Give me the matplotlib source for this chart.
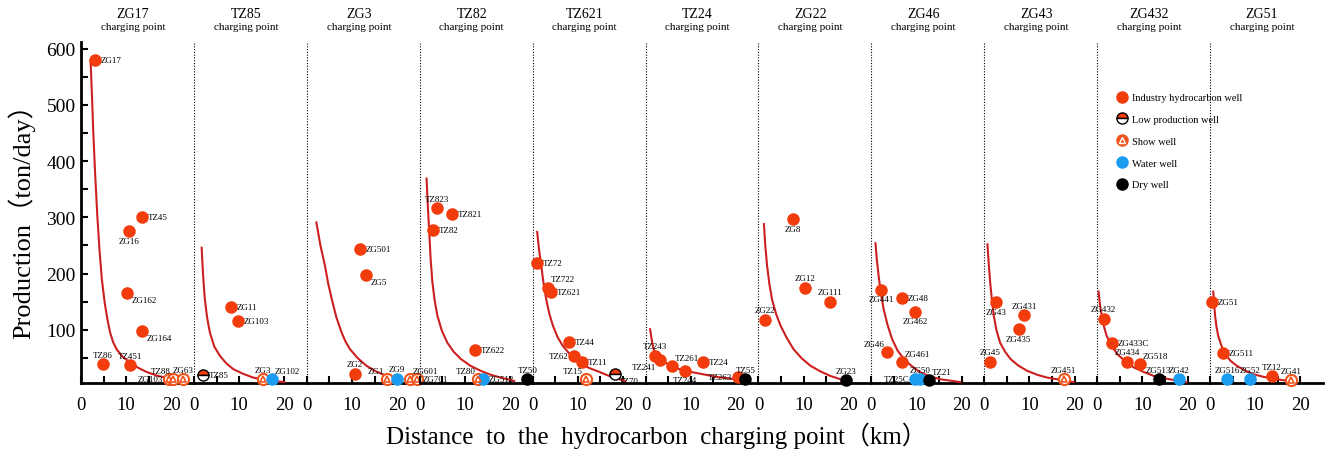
import matplotlib.pyplot as plt
from matplotlib.lines import Line2D

plt.rcParams['font.family'] = ['Liberation Serif', 'Noto Sans CJK SC']

panel_names = ['ZG17', 'TZ85', 'ZG3', 'TZ82', 'TZ621', 'TZ24',
               'ZG22', 'ZG46', 'ZG43', 'ZG432', 'ZG51']

# wells: panel index, name, distance (km), production (ton/day), type
# I = industry, L = low production, S = show, W = water, D = dry
well_panel = [0, 0, 0, 0, 0, 0, 0, 0, 0, 0,
              1, 1, 1, 1, 1,
              2, 2, 2, 2, 2, 2, 2,
              3, 3, 3, 3, 3, 3, 3,
              4, 4, 4, 4, 4, 4, 4, 4,
              5, 5, 5, 5, 5, 5, 5,
              6, 6, 6, 6, 6,
              7, 7, 7, 7, 7, 7, 7, 7,
              8, 8, 8, 8, 8,
              9, 9, 9, 9, 9, 9,
              10, 10, 10, 10, 10, 10]
well_name = ['ZG17', 'TZ45', 'ZG16', 'ZG162', 'ZG164', 'TZ86', 'TZ451', 'ZG103', 'TZ88', 'ZG63',
             'ZG11', 'ZG103', 'TZ85', 'ZG3', 'ZG102',
             'ZG501', 'ZG5', 'ZG2', 'ZG1', 'ZG9', 'ZG601', 'ZG701',
             'TZ823', 'TZ821', 'TZ82', 'TZ622', 'TZ80', 'ZG512', 'TZ50',
             'TZ72', 'TZ722', 'TZ621', 'TZ44', 'TZ62', 'TZ11', 'TZ15', 'TZ70',
             'TZ243', 'TZ241', 'TZ261', 'TZ24', 'TZ244', 'TZ263', 'TZ55',
             'ZG8', 'ZG12', 'ZG111', 'ZG22', 'ZG23',
             'ZG441', 'ZG48', 'ZG462', 'ZG46', 'ZG461', 'TZ25C', 'ZG50', 'TZ21',
             'ZG43', 'ZG431', 'ZG435', 'ZG45', 'ZG451',
             'ZG432', 'ZG433C', 'ZG434', 'ZG518', 'ZG513', 'ZG42',
             'ZG51', 'ZG511', 'ZG516', 'ZG52', 'TZ12', 'ZG41']
well_km = [3.1, 13.5, 10.6, 10.2, 13.6, 4.9, 10.8, 19.4, 20.4, 22.5,
           8.3, 9.7, 2.1, 15.3, 17.2,
           11.7, 13.1, 10.6, 17.8, 20.0, 22.8, 24.4,
           3.9, 7.2, 2.9, 12.2, 12.9, 14.1, 23.8,
           1.0, 3.4, 4.1, 8.0, 9.1, 11.0, 11.7, 18.2,
           2.0, 3.3, 5.9, 12.7, 8.7, 20.4, 22.1,
           7.7, 10.2, 15.8, 1.5, 19.3,
           2.2, 6.8, 9.7, 3.5, 6.8, 9.7, 10.8, 12.7,
           2.6, 8.9, 7.6, 1.2, 17.6,
           1.4, 3.3, 6.6, 9.4, 13.6, 18.2,
           0.5, 2.9, 3.7, 8.9, 13.7, 17.9]
well_prod = [580, 300, 275, 165, 98, 39, 37, 12, 12, 12,
             141, 115, 19, 12, 12,
             243, 197, 22, 12, 13, 13, 13,
             316, 306, 277, 64, 12, 12, 12,
             218, 175, 168, 78, 54, 42, 12, 21,
             54, 46, 36, 42, 27, 16, 12,
             297, 175, 150, 118, 10,
             171, 156, 132, 61, 43, 12, 12, 10,
             149, 126, 101, 43, 12,
             120, 77, 43, 39, 12, 12,
             149, 58, 12, 12, 17, 10]
well_type = ['I', 'I', 'I', 'I', 'I', 'I', 'I', 'S', 'S', 'S',
             'I', 'I', 'L', 'S', 'W',
             'I', 'I', 'I', 'S', 'W', 'S', 'S',
             'I', 'I', 'I', 'I', 'S', 'W', 'D',
             'I', 'I', 'I', 'I', 'I', 'I', 'S', 'L',
             'I', 'I', 'I', 'I', 'I', 'I', 'D',
             'I', 'I', 'I', 'I', 'D',
             'I', 'I', 'I', 'I', 'I', 'W', 'W', 'D',
             'I', 'I', 'I', 'I', 'S',
             'I', 'I', 'I', 'I', 'D', 'W',
             'I', 'I', 'W', 'W', 'I', 'S']

# where each well name sits relative to its marker
label_side = ['r', 'r', 'b', 'br', 'br', 'a', 'a', 'l', 'al', 'a',
              'r', 'r', 'r', 'a', 'ar',
              'r', 'br', 'a', 'al', 'a', 'ar', 'r',
              'a', 'r', 'r', 'r', 'al', 'r', 'a',
              'r', 'ar', 'r', 'r', 'l', 'r', 'al', 'br',
              'a', 'bl', 'ar', 'r', 'b', 'l', 'a',
              'b', 'a', 'a', 'a', 'a',
              'b', 'r', 'b', 'al', 'ar', 'l', 'a', 'ar',
              'b', 'a', 'b', 'a', 'a',
              'a', 'r', 'a', 'ar', 'a', 'a',
              'r', 'r', 'a', 'a', 'a', 'a']

# trend line of each charging point
curve_km = [
    [2.1, 2.4, 2.7, 3.1, 3.6, 4.1, 4.6, 5.2, 5.8, 6.4, 7.1, 7.9, 9.2, 10.8, 12.5, 14.5, 17.0, 20.4, 23.0],
    [1.7, 1.85, 2.0, 2.2, 2.4, 2.9, 3.5, 4.5, 5.8, 7.2, 8.7, 10.8, 13.1, 16.5, 20.0],
    [2.1, 3.0, 4.0, 4.7, 5.5, 6.5, 7.7, 8.5, 9.5, 11.2, 13.2, 15.3, 17.6, 20.6],
    [1.5, 1.8, 2.1, 2.4, 2.8, 3.3, 3.9, 4.9, 6.1, 7.5, 9.1, 11.2, 13.5, 15.7, 17.9, 20.9],
    [1.0, 1.4, 1.9, 2.4, 3.0, 3.7, 4.5, 5.5, 6.7, 8.4, 10.4, 12.5, 14.8, 17.5, 20.4],
    [1.0, 1.4, 1.8, 2.5, 3.3, 4.7, 6.3, 8.4, 10.7, 13.3, 15.9, 19.9],
    [1.2, 1.5, 1.9, 2.4, 3.0, 3.9, 4.9, 6.3, 7.8, 9.6, 11.5, 13.7, 15.9, 17.8, 19.6],
    [0.9, 1.2, 1.6, 2.1, 2.7, 3.6, 4.6, 5.8, 7.2, 9.0, 10.9, 13.0, 15.3, 19.7],
    [0.7, 1.0, 1.3, 1.7, 2.1, 2.7, 3.5, 4.6, 5.8, 7.6, 9.5, 11.7, 13.9, 19.8],
    [0.3, 0.6, 1.0, 1.5, 2.1, 3.2, 4.4, 6.2, 8.1, 10.3, 12.5, 16.0, 19.8],
    [0.7, 0.9, 1.1, 1.4, 1.8, 2.5, 3.3, 4.5, 5.9, 7.6, 9.6, 12.0, 14.8, 19.2],
]
curve_prod = [
    [579, 520, 452, 380, 302, 240, 190, 150, 120, 96, 78, 65, 52, 42, 33, 25, 18, 12, 9],
    [246, 222, 200, 176, 155, 122, 96, 70, 53, 40, 30, 22, 15, 10, 7],
    [291, 250, 214, 183, 155, 123, 95, 80, 66, 50, 36, 26, 18, 7],
    [369, 318, 273, 226, 184, 152, 125, 98, 77, 61, 48, 36, 27, 20, 15, 9],
    [274, 243, 214, 183, 154, 128, 107, 87, 71, 55, 42, 32, 25, 16, 9],
    [101, 80, 65, 55, 48, 40, 33, 28, 24, 20, 16, 12],
    [288, 250, 214, 182, 154, 128, 107, 85, 65, 49, 36, 26, 18, 13, 9],
    [254, 225, 196, 165, 137, 108, 83, 63, 48, 35, 24, 17, 12, 7],
    [252, 215, 184, 152, 125, 99, 77, 61, 48, 36, 27, 20, 15, 7],
    [168, 145, 125, 106, 89, 72, 57, 44, 33, 25, 18, 12, 7],
    [168, 145, 125, 106, 89, 72, 57, 45, 36, 28, 21, 16, 12, 7],
]

RED = '#f23c0c'
SHOW = '#f0551e'
BLUE = '#1c9cf0'
LINE = '#cc2020'

offsets = {
    'r': (4, 0, 'left', 'center'),
    'l': (-4, 0, 'right', 'center'),
    'a': (0, 4, 'center', 'bottom'),
    'b': (0, -4, 'center', 'top'),
    'ar': (2, 3, 'left', 'bottom'),
    'al': (-2, 3, 'right', 'bottom'),
    'br': (3, -2, 'left', 'top'),
    'bl': (-3, -2, 'right', 'top'),
}


def draw_well(ax, x, y, kind):
    if kind == 'I':
        ax.plot(x, y, 'o', ms=8, mfc=RED, mec=RED, clip_on=False, zorder=4)
    elif kind == 'L':
        ax.plot(x, y, 'o', ms=8, mfc=RED, mec='k', mew=1, fillstyle='top',
                markerfacecoloralt='white', clip_on=False, zorder=4)
    elif kind == 'S':
        ax.plot(x, y, 'o', ms=8, mfc='white', mec=SHOW, mew=1.5, clip_on=False, zorder=4)
        ax.plot(x, y, '^', ms=4.5, mfc='white', mec=SHOW, mew=1.2, clip_on=False, zorder=5)
    elif kind == 'W':
        ax.plot(x, y, 'o', ms=8, mfc=BLUE, mec=BLUE, clip_on=False, zorder=4)
    else:
        ax.plot(x, y, 'o', ms=8, mfc='k', mec='k', clip_on=False, zorder=4)


fig, axes = plt.subplots(1, 11, sharey=True, figsize=(13.29, 4.52), dpi=100,
                         gridspec_kw={'wspace': 0})
fig.subplots_adjust(left=0.061, right=0.9955, top=0.905, bottom=0.150)

for i, ax in enumerate(axes):
    # transparent panels so names near a divider are not covered by the next panel
    ax.patch.set_visible(False)
    ax.set_xlim(0, 25)
    ax.set_ylim(5, 612)
    for s in ['top', 'right']:
        ax.spines[s].set_visible(False)
    ax.spines['bottom'].set_linewidth(2)
    ax.spines['left'].set_linewidth(2)
    ax.set_xticks([0, 5, 10, 15, 20])
    ax.set_xticklabels(['0', '', '10', '', '20'])
    ax.tick_params(axis='x', direction='in', length=5, width=1.5, labelsize=13.5, pad=9)
    if i == 0:
        ax.set_yticks([100, 200, 300, 400, 500, 600])
        ax.set_yticks([50, 150, 250, 350, 450, 550], minor=True)
        ax.tick_params(axis='y', which='both', direction='in', length=5, width=1.5,
                       labelsize=14, pad=4)
    else:
        ax.spines['left'].set_visible(False)
        ax.tick_params(axis='y', which='both', left=False, labelleft=False)
        ax.axvline(0, color='k', lw=0.8, ls=(0, (1, 1.5)), clip_on=False)

    ax.plot(curve_km[i], curve_prod[i], color=LINE, lw=1.5, zorder=3, clip_on=False)

    ax.text(0.46, 1.082, panel_names[i], transform=ax.transAxes, ha='center',
            va='center', fontsize=10)
    ax.text(0.46, 1.044, 'charging point', transform=ax.transAxes, ha='center',
            va='center', fontsize=8)

for p, name, x, y, kind, side in zip(well_panel, well_name, well_km, well_prod,
                                     well_type, label_side):
    ax = axes[p]
    draw_well(ax, x, y, kind)
    dx, dy, ha, va = offsets[side]
    ax.annotate(name, (x, y), xytext=(dx, dy), textcoords='offset points',
                ha=ha, va=va, fontsize=6.5, annotation_clip=False, zorder=6)

fig.text(0.016, 0.524, 'Production（ton/day）', rotation=90, ha='center',
         va='center', fontsize=19)
fig.text(0.494, 0.035, 'Distance  to  the  hydrocarbon  charging point（km）',
         ha='center', va='center', fontsize=18)

handles = [
    Line2D([], [], ls='', marker='o', ms=8, mfc=RED, mec=RED),
    Line2D([], [], ls='', marker='o', ms=8, mfc=RED, mec='k', mew=1,
           fillstyle='top', markerfacecoloralt='white'),
    (Line2D([], [], ls='', marker='o', ms=8, mfc=SHOW, mec=SHOW),
     Line2D([], [], ls='', marker='^', ms=4.5, mfc=SHOW, mec='white', mew=1)),
    Line2D([], [], ls='', marker='o', ms=8, mfc=BLUE, mec=BLUE),
    Line2D([], [], ls='', marker='o', ms=8, mfc='k', mec='k'),
]
labels = ['Industry hydrocarbon well', 'Low production well', 'Show well',
          'Water well', 'Dry well']
fig.legend(handles, labels, loc='upper left', bbox_to_anchor=(0.8397, 1 - 94 / 452),
           frameon=False, fontsize=7.5, labelspacing=1.2, handletextpad=0.3,
           borderaxespad=0, borderpad=0, handlelength=1.2)

fig.savefig('out.png', dpi=100)
